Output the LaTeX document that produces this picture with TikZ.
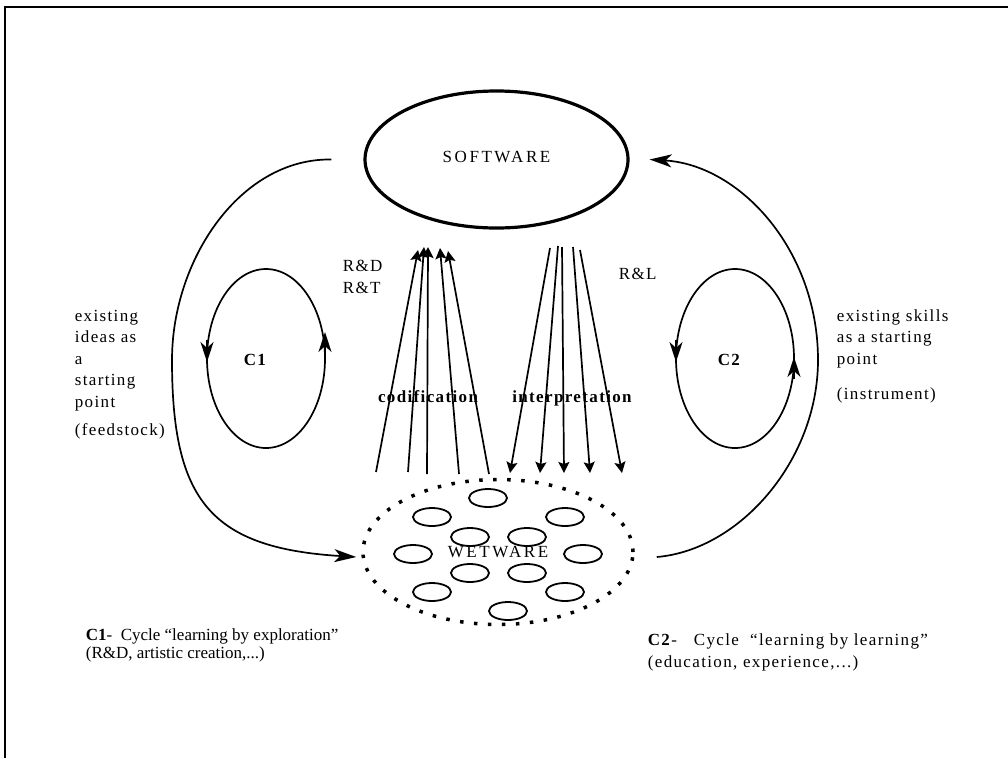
\documentclass[tikz,border=0pt]{standalone}
\usepackage{fontspec}
\setmainfont{Liberation Serif}
\newfontfamily\spacedfont{Liberation Serif}[LetterSpace=8]
\newfontfamily\widefont{Liberation Serif}[LetterSpace=15]
\usetikzlibrary{arrows.meta}
\usetikzlibrary{shapes.geometric}

\begin{document}
\begin{tikzpicture}[x=1pt,y=-1pt,line width=1.7pt,
  txt/.style={inner sep=0pt,anchor=base west,align=left,font=\spacedfont\fontsize{17}{21.5}\selectfont},
  bold/.style={font=\spacedfont\bfseries\fontsize{17}{20}\selectfont},
  bigtip/.style={-{Stealth[length=22pt,width=13pt,inset=6pt]}},
  looptip/.style={-{Stealth[length=20pt,width=13pt,inset=6pt]}},
  fantip/.style={-{Stealth[length=11pt,width=11pt,inset=2pt]}},
  cell/.style={line width=1.8pt}]
  \useasboundingbox (0,0) rectangle (1008,758);
  \draw[line width=2pt] (5,758) -- (5,7) -- (1008,7);

  %top and bottom
  \node[draw,ellipse,line width=3.2pt,minimum width=263pt,minimum height=137pt,text depth=6pt,font=\widefont\fontsize{17}{20}\selectfont] (soft) at (496.5,159.5) {SOFTWARE};
  \node[draw,ellipse,line width=3.5pt,dash pattern=on 3.5pt off 10.5pt,minimum width=270pt,minimum height=145pt,font=\widefont\fontsize{17}{20}\selectfont] (wet) at (498,552) {WETWARE};
  \foreach \x/\y in {488/498,432/517,565/517,470/537,527/537,413/554,583/554,470/573,527/573,432/592,565/592,508/611}
    \draw[cell] (\x,\y) ellipse [x radius=19,y radius=9];

  %left
  \coordinate (sl) at ([xshift=-32pt]soft.west);
  \coordinate (wl) at ([shift={(-5,5)}]wet.west);
  \draw[bigtip] (sl) .. controls (240,158) and (172,260) .. (172,360) .. controls (172,500) and (210,548) .. (wl);
  \draw (266,358.5) ellipse [x radius=59,y radius=89.5];
  \draw[looptip] (207,340) -- (207,362);
  \draw[looptip] (325,354) -- (325,332);
  \node[txt,bold] (c1) at (243,365) {C1};
  \node[txt] (ideas) at (74,435) {existing\\ideas as\\a\\starting\\point\\[6.5pt](feedstock)};
  \node[txt] (rd) at (342,293) {R\&D\\R\&T};

  %right
  \coordinate (wr) at ([shift={(22,5)}]wet.east);
  \coordinate (sr) at ([xshift=20pt]soft.east);
  \draw[bigtip] (wr) .. controls (740,550) and (818,460) .. (818,360) .. controls (818,250) and (740,165) .. (sr);
  \draw (735,358.5) ellipse [x radius=59,y radius=89.5];
  \draw[looptip] (676,340) -- (676,362);
  \draw[looptip] (794,379) -- (794,357);
  \node[txt,bold] (c2) at (717,365) {C2};
  \node[txt] (skills) at (836,399) {existing skills\\as a starting\\point\\[13.5pt](instrument)};
  \node[txt] (rl) at (618,279) {R\&L};

  %middle
  \foreach \i/\bx/\by/\tx/\ty in {1/376/472/418/250,2/408/472/424/247,3/427/474/428/247,4/459/474/440/248,5/489/474/448/251}{
    \coordinate (cb\i) at (\bx,\by);
    \coordinate (ct\i) at (\tx,\ty);
    \draw[fantip] (cb\i) -- (ct\i);
  }
  \foreach \i/\tx/\ty/\bx in {1/550/248/510,2/558/246/540,3/562/247/564,4/573/247/590,5/580/250/622}{
    \coordinate (it\i) at (\tx,\ty);
    \coordinate (ib\i) at (\bx,473);
    \draw[fantip] (it\i) -- (ib\i);
  }
  \node[txt,bold,anchor=base] (cod) at (428,402) {codification};
  \node[txt,bold,anchor=base] (interp) at (572,402) {interpretation};

  %captions
  \node[txt,font=\fontsize{17}{17.5}\selectfont] (cap1) at (85,658) {\textbf{C1}-~ Cycle “learning by exploration”\\(R\&D, artistic creation,...)};
  \node[txt,font=\spacedfont\fontsize{17}{22}\selectfont] (cap2) at (647,667) {\textbf{C2}-~~ Cycle~ “learning by learning”\\(education, experience,...)};
\end{tikzpicture}
\end{document}
